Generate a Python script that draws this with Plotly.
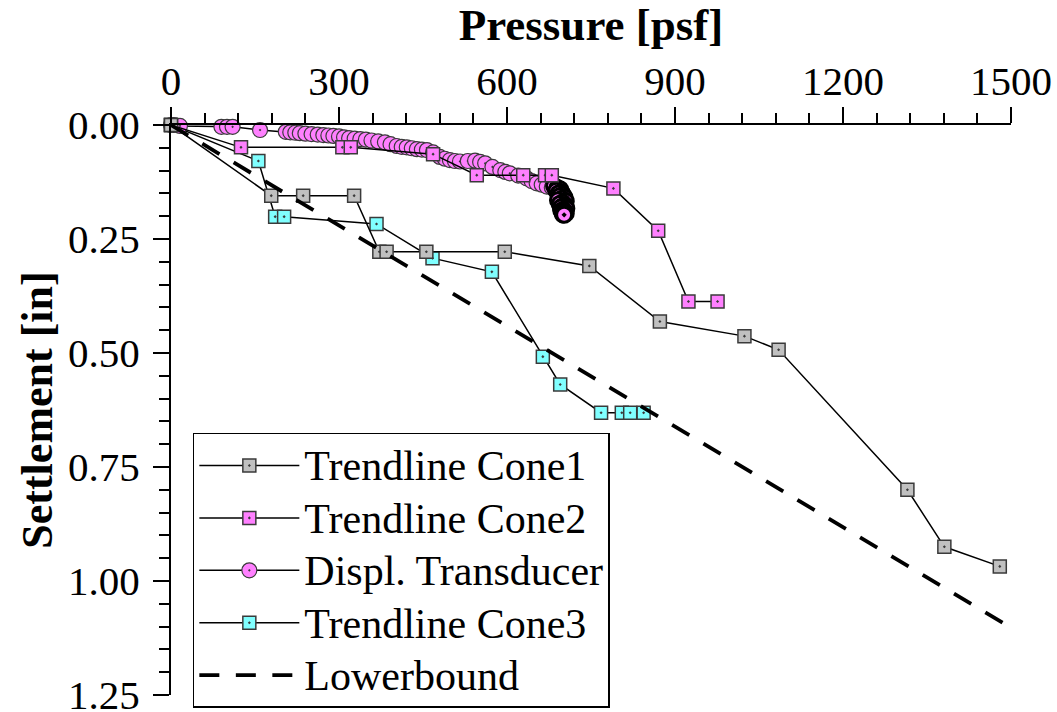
import plotly.graph_objects as go

# Plate load test: settlement vs applied pressure
cone1_p = [0, 179, 236, 327, 372, 385, 456, 596, 747, 873, 1024, 1085, 1315, 1381, 1480]
cone1_s = [0, 0.155, 0.155, 0.155, 0.278, 0.278, 0.278, 0.278, 0.309, 0.431, 0.463, 0.493, 0.800, 0.925, 0.968]

cone2_p = [0, 125, 306, 321, 468, 546, 629, 668, 680, 790, 870, 924, 976]
cone2_s = [0, 0.049, 0.049, 0.049, 0.064, 0.110, 0.110, 0.110, 0.110, 0.139, 0.232, 0.387, 0.387]

cone3_p = [0, 156, 186, 202, 367, 467, 573, 664, 695, 768, 805, 820, 844]
cone3_s = [0, 0.079, 0.201, 0.201, 0.217, 0.292, 0.322, 0.508, 0.569, 0.631, 0.631, 0.631, 0.631]

# Displacement transducer readings during loading
trans_p = [0, 5, 16, 90, 100, 110, 159, 205, 213, 222, 230, 240, 251, 262, 272, 281,
           290, 300, 309, 318, 328, 338, 348, 358, 370, 382, 392, 403, 412, 421, 430,
           439, 448, 457, 468, 480, 489, 498, 507, 516, 530, 543, 552, 561, 574, 588,
           597, 605, 620, 635, 644, 653, 662, 671, 680]
trans_s = [0, 0.000, 0.002, 0.004, 0.004, 0.004, 0.011, 0.015, 0.016, 0.017, 0.018,
           0.019, 0.020, 0.021, 0.022, 0.023, 0.024, 0.025, 0.027, 0.029, 0.030, 0.031,
           0.032, 0.034, 0.036, 0.038, 0.042, 0.046, 0.048, 0.049, 0.051, 0.053, 0.054,
           0.055, 0.060, 0.070, 0.074, 0.077, 0.079, 0.080, 0.079, 0.078, 0.081, 0.084,
           0.092, 0.099, 0.103, 0.106, 0.111, 0.117, 0.123, 0.128, 0.131, 0.135, 0.137]

# Transducer readings while the final load was held
hold_p = [684, 690, 695, 688, 697, 692, 700, 694, 703, 698, 691, 705, 699, 694, 704,
          700, 696, 706, 701, 697, 703, 699, 705, 700, 702]
hold_s = [0.134, 0.138, 0.141, 0.144, 0.147, 0.150, 0.153, 0.156, 0.159, 0.162, 0.165,
          0.167, 0.170, 0.173, 0.176, 0.178, 0.181, 0.183, 0.186, 0.188, 0.190, 0.192,
          0.194, 0.196, 0.197]

lower_p = [0, 1486]
lower_s = [0, 1.092]

x_ticks = [0, 300, 600, 900, 1200, 1500]
y_ticks = [0.0, 0.25, 0.50, 0.75, 1.00, 1.25]

SERIF = "Liberation Serif, Times New Roman, serif"
GRAY, PINK, CYAN = "#c0c0c0", "#ff80ff", "#80ffff"
EDGE = "#3a3a3a"


def legend_label(text):
    # legend rows keep their spacing from legend.font; the label itself is drawn larger
    return f"<span style='font-size:42px'>{text}</span>"


fig = go.Figure()


def square_series(name, xs, ys, fill, rank):
    fig.add_trace(go.Scatter(
        x=xs, y=ys, name=legend_label(name), mode="lines+markers", legendrank=rank,
        line=dict(color="black", width=1.5),
        marker=dict(symbol="square-dot", size=13, color=fill,
                    line=dict(color=EDGE, width=1.5)),
        cliponaxis=False))


square_series("Trendline Cone3", cone3_p, cone3_s, CYAN, 4)

fig.add_trace(go.Scatter(
    x=trans_p, y=trans_s, name=legend_label("Displ. Transducer"), mode="lines+markers",
    legendrank=3, line=dict(color="black", width=1.5),
    marker=dict(symbol="circle-dot", size=15, color=PINK,
                line=dict(color=EDGE, width=1.2)),
    cliponaxis=False))
fig.add_trace(go.Scatter(
    x=hold_p, y=hold_s, name="Displ. Transducer", mode="lines+markers",
    showlegend=False, line=dict(color="black", width=2),
    marker=dict(symbol="circle-dot", size=15, color=PINK,
                line=dict(color="black", width=3)),
    cliponaxis=False))

square_series("Trendline Cone2", cone2_p, cone2_s, PINK, 2)
square_series("Trendline Cone1", cone1_p, cone1_s, GRAY, 1)

fig.add_trace(go.Scatter(
    x=lower_p, y=lower_s, name=legend_label("Lowerbound"), mode="lines", legendrank=5,
    line=dict(color="black", width=3.8, dash="20px,16.5px"),
    cliponaxis=False))

axis_common = dict(
    showline=True, linecolor="black", linewidth=2, mirror=False,
    showgrid=False, zeroline=False,
    ticks="outside", ticklen=16, tickwidth=2, tickcolor="black",
    tickfont=dict(family=SERIF, size=41, color="black"),
    ticklabeloverflow="allow",
)

fig.update_xaxes(
    side="top", range=[0, 1500], tickmode="array", tickvals=x_ticks,
    ticktext=[str(v) for v in x_ticks],
    minor=dict(dtick=60, tick0=0, ticks="outside", ticklen=10, tickwidth=2, tickcolor="black"),
    title=dict(text="Pressure [psf]", standoff=8,
               font=dict(family=SERIF, size=45, color="black", weight="bold")),
    ticklabelstandoff=-4,
    **axis_common)
fig.update_yaxes(
    range=[1.25, 0], tickmode="array", tickvals=y_ticks,
    ticktext=[f"{v:.2f}" for v in y_ticks],
    minor=dict(dtick=0.05, tick0=0, ticks="outside", ticklen=10, tickwidth=2, tickcolor="black"),
    title=dict(text="Settlement [in]", standoff=2,
               font=dict(family=SERIF, size=44, color="black", weight="bold")),
    ticklabelstandoff=5,
    **axis_common)

fig.update_layout(
    width=1057, height=712,
    margin=dict(l=171, r=46, t=125, b=17, autoexpand=False),
    paper_bgcolor="white", plot_bgcolor="white",
    legend=dict(x=0.026, y=0.46, xanchor="left", yanchor="top",
                bgcolor="white", bordercolor="black", borderwidth=1.5,
                font=dict(family=SERIF, size=38, color="black"),
                itemwidth=100, tracegroupgap=0),
    showlegend=True,
)

fig.write_html("out.html")
